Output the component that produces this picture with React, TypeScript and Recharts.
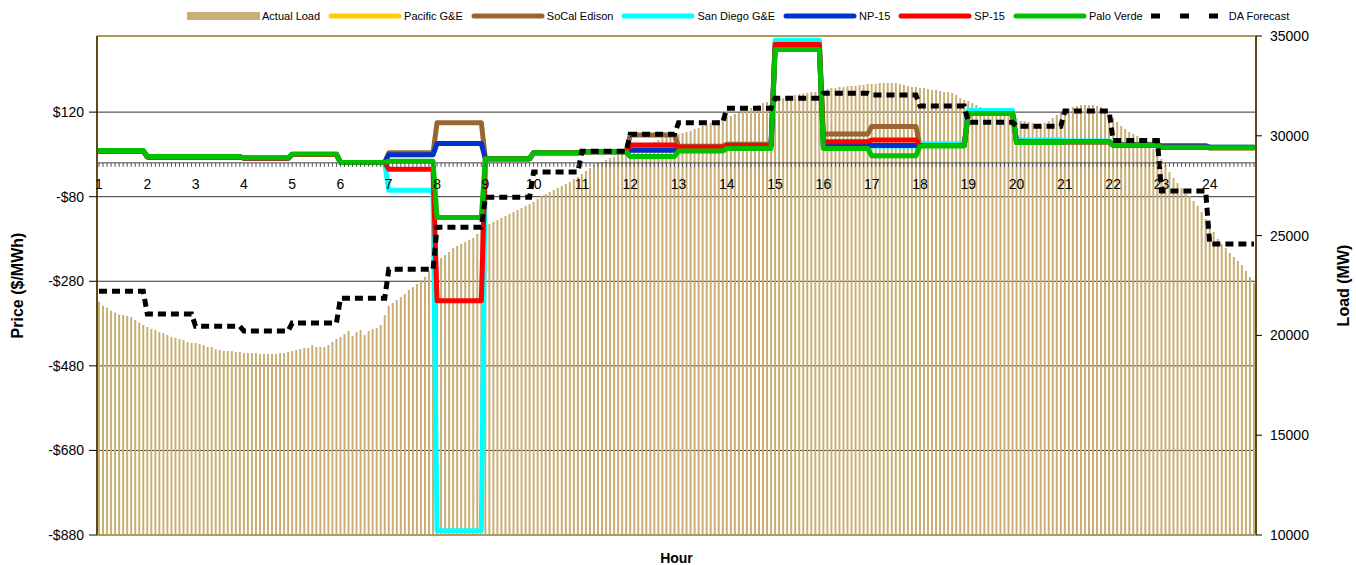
import {
  Bar,
  CartesianGrid,
  ComposedChart,
  Legend,
  Line,
  ReferenceLine,
  XAxis,
  YAxis,
} from "recharts";

const FONT = "'Liberation Sans', Arial, Helvetica, sans-serif";
const LOAD_COLOR = "#C9AF75";
const BORDER_TAN = "#B29A5E";
const AXIS_BROWN = "#5E4A1A";

const HOUR_LABELS = [
  "1", "2", "3", "4", "5", "6", "7", "8", "9", "10", "11", "12",
  "13", "14", "15", "16", "17", "18", "19", "20", "21", "22", "23", "24",
];

const PRICE_TICKS = [-880, -680, -480, -280, -80, 120];
const LOAD_TICKS = [10000, 15000, 20000, 25000, 30000, 35000];
const PRICE_DOMAIN = [-880, 300];
const LOAD_DOMAIN = [10000, 35000];

// hourly prices ($/MWh)
const PACIFIC_GE = [28, 14, 14, 11, 20, 1, 19, 46, 10, 24, 26, 30, 35, 40, 271, 41, 41, 41, 117, 50, 50, 42, 40, 37];
const SOCAL_EDISON = [28, 14, 14, 11, 20, 1, 24, 95, 10, 24, 26, 66, 39, 44, 284, 68, 86, 41, 117, 48, 50, 42, 37, 36];
const SAN_DIEGO_GE = [28, 14, 14, 11, 20, 0, -65, -870, 10, 24, 26, 40, 36, 40, 290, 40, 40, 45, 124, 54, 52, 44, 41, 37];
const NP_15 = [28, 14, 14, 11, 20, 1, 19, 46, 10, 24, 26, 30, 35, 40, 271, 41, 41, 41, 117, 50, 50, 42, 40, 37];
const SP_15 = [28, 14, 14, 11, 20, 1, -15, -326, 10, 24, 26, 42, 37, 41, 280, 50, 54, 41, 117, 48, 50, 42, 37, 36];
const PALO_VERDE = [29, 15, 15, 12, 21, 1, 4, -129, 10, 24, 26, 15, 28, 34, 268, 34, 17, 40, 117, 48, 50, 42, 37, 36];

// hourly day-ahead load forecast (MW)
const DA_FORECAST = [
  22210, 21070, 20460, 20220, 20620, 21860, 23310, 25420, 26920, 28190, 29220, 30080,
  30660, 31380, 31880, 32130, 32040, 31490, 30680, 30480, 31240, 29770, 27230, 24580,
];

// actual load, 5-minute intervals (MW)
const ACTUAL_LOAD = [
  21690, 21490, 21390, 21240, 21140, 21040, 21020, 20970, 20920, 20770, 20640, 20520,
  20420, 20320, 20270, 20170, 20110, 20020, 19920, 19870, 19820, 19770, 19670, 19620,
  19620, 19570, 19520, 19420, 19420, 19320, 19270, 19220, 19220, 19220, 19170, 19170,
  19120, 19120, 19120, 19120, 19070, 19070, 19070, 19070, 19070, 19120, 19120, 19170,
  19220, 19270, 19320, 19370, 19370, 19520, 19420, 19420, 19420, 19520, 19670, 19820,
  19920, 20070, 20220, 19970, 20170, 20270, 20020, 20220, 20320, 20370, 20520, 21020,
  21490, 21620, 21770, 21920, 22070, 22270, 22420, 22580, 22780, 22930, 23230, 23580,
  23730, 23880, 24030, 24180, 24380, 24480, 24580, 24680, 24780, 24880, 25080, 25330,
  25480, 25580, 25680, 25780, 25880, 25980, 26080, 26180, 26280, 26380, 26480, 26580,
  26680, 26830, 26980, 27080, 27180, 27280, 27380, 27480, 27590, 27690, 27840, 27940,
  28090, 28240, 28390, 28540, 28640, 28690, 28790, 28890, 28940, 29040, 29140, 29240,
  29340, 29390, 29490, 29540, 29590, 29640, 29690, 29790, 29890, 29940, 29990, 30040,
  30090, 30140, 30190, 30240, 30340, 30390, 30490, 30540, 30640, 30740, 30790, 30890,
  30940, 30990, 31090, 31140, 31240, 31290, 31390, 31490, 31540, 31640, 31690, 31740,
  31790, 31840, 31890, 31940, 31990, 32040, 32090, 32120, 32140, 32190, 32190, 32240,
  32290, 32340, 32390, 32390, 32440, 32440, 32490, 32490, 32490, 32540, 32540, 32590,
  32590, 32590, 32640, 32640, 32640, 32640, 32640, 32590, 32540, 32490, 32440, 32440,
  32390, 32390, 32340, 32290, 32290, 32240, 32190, 32190, 32140, 32040, 31890, 31790,
  31740, 31640, 31540, 31440, 31390, 31290, 31290, 31290, 31290, 31240, 31190, 31040,
  30890, 30740, 30740, 30690, 30640, 30590, 30540, 30640, 30740, 30890, 31040, 31140,
  31240, 31340, 31440, 31490, 31540, 31540, 31540, 31540, 31490, 31440, 31240, 31090,
  30890, 30690, 30490, 30340, 30190, 30090, 29990, 29840, 29740, 29590, 29340, 29090,
  28840, 28540, 28190, 27890, 27640, 27380, 27180, 26980, 26730, 26480, 26180, 25830,
  25480, 25180, 24830, 24580, 24380, 24130, 23930, 23730, 23530, 23230, 22930, 22630,
];

const INTERVALS_PER_HOUR = 12;

const rows = ACTUAL_LOAD.map((load, i) => {
  const h = Math.floor(i / INTERVALS_PER_HOUR);
  return {
    i,
    load,
    pge: PACIFIC_GE[h],
    sce: SOCAL_EDISON[h],
    sdge: SAN_DIEGO_GE[h],
    np15: NP_15[h],
    sp15: SP_15[h],
    pv: PALO_VERDE[h],
    da: DA_FORECAST[h],
  };
});

// layout
const WIDTH = 1356;
const HEIGHT = 565;
const LEGEND_H = 30;
const MARGIN = { top: 6, right: 0, bottom: 0, left: 0 };
const LEFT_AXIS_W = 97;
const RIGHT_AXIS_W = 100;
const X_AXIS_H = 30;
const PLOT_TOP = MARGIN.top + LEGEND_H;
const PLOT_H = HEIGHT - PLOT_TOP - X_AXIS_H - MARGIN.bottom;
// the category axis crosses the price axis at $0
const ZERO_Y = PLOT_TOP + (PLOT_H * PRICE_DOMAIN[1]) / (PRICE_DOMAIN[1] - PRICE_DOMAIN[0]);

const SERIES = [
  { key: "pge", name: "Pacific G&E", color: "#FFCC00" },
  { key: "sce", name: "SoCal Edison", color: "#996633" },
  { key: "sdge", name: "San Diego G&E", color: "#00FFFF" },
  { key: "np15", name: "NP-15", color: "#0033CC" },
  { key: "sp15", name: "SP-15", color: "#FF0000" },
  { key: "pv", name: "Palo Verde", color: "#00C000" },
];

function ChartLegend() {
  const item = (swatch: React.ReactNode, name: string) => (
    <div key={name} style={{ display: "flex", alignItems: "center", marginRight: 8 }}>
      {swatch}
      <span style={{ marginLeft: 2 }}>{name}</span>
    </div>
  );
  return (
    <div
      style={{
        display: "flex",
        alignItems: "center",
        height: LEGEND_H,
        paddingLeft: 187,
        paddingTop: 2,
        boxSizing: "border-box",
        fontFamily: FONT,
        fontSize: 11,
        color: "#000",
        whiteSpace: "nowrap",
      }}
    >
      {item(
        <svg width={73} height={10}>
          <rect x={0} y={1} width={73} height={8} fill={LOAD_COLOR} />
        </svg>,
        "Actual Load",
      )}
      {SERIES.map((s) =>
        item(
          <svg width={74} height={10}>
            <line x1={3} x2={71} y1={5} y2={5} stroke={s.color} strokeWidth={5} strokeLinecap="round" />
          </svg>,
          s.name,
        ),
      )}
      {item(
        <svg width={76} height={10}>
          <line x1={0} x2={68} y1={5} y2={5} stroke="#000" strokeWidth={5} strokeDasharray="9 20" />
        </svg>,
        "DA Forecast",
      )}
    </div>
  );
}

function HourTick(props: any) {
  const { x, payload } = props;
  const i = payload.value as number;
  const label = i % INTERVALS_PER_HOUR === 0 ? HOUR_LABELS[i / INTERVALS_PER_HOUR] : null;
  return (
    <g>
      <line x1={x} x2={x} y1={ZERO_Y} y2={ZERO_Y + 4} stroke="#555" strokeWidth={1} />
      {label && (
        <text x={x} y={ZERO_Y + 26} textAnchor="middle" fontSize={14} fontFamily={FONT} fill="#000">
          {label}
        </text>
      )}
    </g>
  );
}

const priceLabel = (v: number) => (v < 0 ? `-$${Math.abs(v)}` : `$${v}`);

export default function App() {
  return (
    <div style={{ position: "absolute", left: 0, top: 0, background: "#fff" }}>
      <ComposedChart
        width={WIDTH}
        height={HEIGHT}
        data={rows}
        margin={MARGIN}
        barCategoryGap={0}
        style={{ fontFamily: FONT }}
      >
        <Legend
          verticalAlign="top"
          content={<ChartLegend />}
          wrapperStyle={{ left: 0, top: 0, width: WIDTH, height: LEGEND_H }}
        />
        <CartesianGrid yAxisId="price" vertical={false} stroke="#333" strokeWidth={1} />
        <YAxis
          yAxisId="price"
          orientation="left"
          width={LEFT_AXIS_W}
          domain={PRICE_DOMAIN}
          ticks={PRICE_TICKS}
          allowDataOverflow
          tickFormatter={priceLabel}
          tick={{ fontSize: 14, fill: "#000", fontFamily: FONT }}
          tickSize={8}
          tickMargin={5}
          tickLine={{ stroke: "#000" }}
          axisLine={{ stroke: AXIS_BROWN, strokeWidth: 2 }}
          label={{
            value: "Price ($/MWh)",
            angle: -90,
            position: "insideLeft",
            offset: 17,
            style: { textAnchor: "middle", fontWeight: "bold", fontSize: 16, fontFamily: FONT, fill: "#000" },
          }}
        />
        <YAxis
          yAxisId="load"
          orientation="right"
          width={RIGHT_AXIS_W}
          domain={LOAD_DOMAIN}
          ticks={LOAD_TICKS}
          allowDataOverflow
          tick={{ fontSize: 14, fill: "#000", fontFamily: FONT }}
          tickSize={6}
          tickMargin={8}
          tickLine={{ stroke: "#000" }}
          axisLine={{ stroke: AXIS_BROWN, strokeWidth: 2 }}
          label={{
            value: "Load (MW)",
            angle: -90,
            position: "insideRight",
            offset: 13,
            style: { textAnchor: "middle", fontWeight: "bold", fontSize: 16, fontFamily: FONT, fill: "#000" },
          }}
        />
        <Bar yAxisId="load" dataKey="load" fill={LOAD_COLOR} barSize={2} isAnimationActive={false} />
        <XAxis
          dataKey="i"
          type="category"
          interval={0}
          height={X_AXIS_H}
          tick={<HourTick />}
          tickLine={false}
          axisLine={{ stroke: BORDER_TAN, strokeWidth: 2 }}
          label={{
            value: "Hour",
            position: "insideBottom",
            offset: 2,
            style: { fontWeight: "bold", fontSize: 14, fontFamily: FONT, fill: "#000" },
          }}
        />
        <ReferenceLine yAxisId="price" y={PRICE_DOMAIN[1]} stroke={BORDER_TAN} strokeWidth={2} />
        <ReferenceLine yAxisId="price" y={0} stroke="#444" strokeWidth={1} />
        {SERIES.map((s) => (
          <Line
            key={s.key}
            yAxisId="price"
            type="linear"
            dataKey={s.key}
            name={s.name}
            stroke={s.color}
            strokeWidth={5}
            strokeLinejoin="round"
            strokeLinecap="round"
            dot={false}
            activeDot={false}
            isAnimationActive={false}
          />
        ))}
        <Line
          yAxisId="load"
          type="linear"
          dataKey="da"
          name="DA Forecast"
          stroke="#000"
          strokeWidth={5}
          strokeDasharray="8 5"
          dot={false}
          activeDot={false}
          isAnimationActive={false}
        />
      </ComposedChart>
    </div>
  );
}
